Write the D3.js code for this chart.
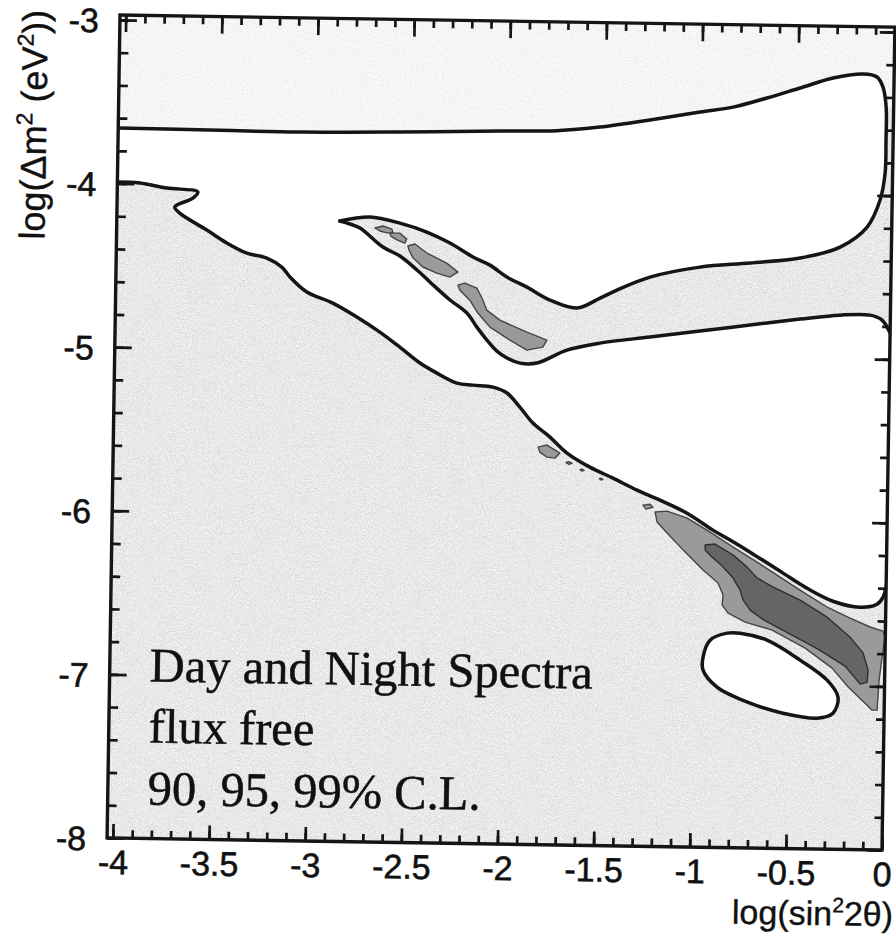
<!DOCTYPE html>
<html><head><meta charset="utf-8">
<script src="https://cdn.jsdelivr.net/npm/d3@7"></script>
<style>
html,body{margin:0;padding:0;background:#fff;}
svg{display:block;}
</style></head><body>
<svg id="chart" width="896" height="934"></svg>
<script>
// Axis ranges, in log units
const xRange = [-4.03, 0];
const yRange = [-8, -2.97];
const xTickValues = [-4, -3.5, -3, -2.5, -2, -1.5, -1, -0.5, 0];
const xTickLabels = ["-4", "-3.5", "-3", "-2.5", "-2", "-1.5", "-1", "-0.5", "0"];
const yTickValues = [-3, -4, -5, -6, -7, -8];
const yTickLabels = ["-3", "-4", "-5", "-6", "-7", "-8"];

// Upper contour: flat line, large loop, then upper edge of the diagonal band up to its tip
const topContour = [
  [-4.03, -3.661], [-3.5, -3.665], [-3.085, -3.668], [-2.565, -3.658], [-2.045, -3.643], [-1.75, -3.635],
  [-1.525, -3.609], [-1.266, -3.561], [-1.006, -3.507], [-0.835, -3.474], [-0.659, -3.415], [-0.488, -3.351],
  [-0.317, -3.287], [-0.162, -3.259], [-0.089, -3.276], [-0.057, -3.337], [-0.039, -3.459], [-0.037, -3.66],
  [-0.039, -3.862], [-0.063, -4.028], [-0.128, -4.194], [-0.267, -4.319], [-0.474, -4.39], [-0.734, -4.425],
  [-0.994, -4.455], [-1.253, -4.521], [-1.424, -4.603], [-1.511, -4.654], [-1.63, -4.717],
  [-1.771, -4.671], [-1.892, -4.594], [-1.997, -4.534], [-2.086, -4.463], [-2.175, -4.415], [-2.296, -4.332],
  [-2.417, -4.267], [-2.558, -4.215], [-2.714, -4.181], [-2.87, -4.208]
];
// Lower edge of the diagonal band, from its tip out to the right-hand axis
const bandLower = [
  [-2.87, -4.208], [-2.818, -4.225], [-2.765, -4.249], [-2.644, -4.363], [-2.555, -4.416], [-2.465, -4.50],
  [-2.397, -4.572], [-2.291, -4.68], [-2.202, -4.758], [-2.149, -4.843], [-2.096, -4.921], [-2.043, -4.988],
  [-1.99, -5.029], [-1.922, -5.059], [-1.834, -5.057], [-1.679, -4.975], [-1.508, -4.929], [-1.248, -4.887],
  [-0.989, -4.846], [-0.729, -4.804], [-0.469, -4.763], [-0.262, -4.735], [-0.106, -4.732], [-0.043, -4.761],
  [0, -4.84]
];
// Lower boundary of the excluded region
const lowerBoundary = [
  [-4.03, -3.991], [-3.913, -3.995], [-3.772, -4.023], [-3.611, -4.044], [-3.636, -4.082], [-3.729, -4.138],
  [-3.703, -4.175], [-3.561, -4.276], [-3.456, -4.353], [-3.351, -4.413], [-3.247, -4.441], [-3.168, -4.495],
  [-3.125, -4.555], [-3.036, -4.645], [-2.90, -4.71], [-2.774, -4.793], [-2.653, -4.883], [-2.548, -4.973],
  [-2.442, -5.068], [-2.353, -5.128], [-2.248, -5.187], [-2.165, -5.198], [-2.06, -5.208], [-1.987, -5.243],
  [-1.919, -5.328], [-1.85, -5.424], [-1.76, -5.508], [-1.67, -5.604], [-1.55, -5.688], [-1.429, -5.753],
  [-1.303, -5.824], [-1.183, -5.883], [-1.041, -5.96], [-0.905, -6.061], [-0.815, -6.12], [-0.71, -6.192],
  [-0.537, -6.317], [-0.411, -6.407], [-0.275, -6.484], [-0.134, -6.518], [-0.046, -6.498], [-0.015, -6.454],
  [0, -6.39]
];
// Closed island at large mixing, small mass splitting
const island = [
  [-0.946, -6.838], [-0.911, -6.734], [-0.823, -6.689], [-0.756, -6.688], [-0.615, -6.728], [-0.441, -6.847],
  [-0.299, -6.967], [-0.241, -7.07], [-0.266, -7.168], [-0.348, -7.2], [-0.526, -7.173], [-0.698, -7.115],
  [-0.871, -7.02], [-0.945, -6.918]
];
// 95% C.L. patches
const mid95 = [
  [[-2.687, -4.247], [-2.645, -4.234], [-2.599, -4.252], [-2.593, -4.276], [-2.625, -4.276], [-2.661, -4.265]],
  [[-2.609, -4.277], [-2.557, -4.276], [-2.521, -4.312], [-2.531, -4.337], [-2.572, -4.318], [-2.604, -4.295]],
  [[-2.514, -4.354], [-2.478, -4.341], [-2.415, -4.395], [-2.311, -4.455], [-2.252, -4.509], [-2.294, -4.54],
   [-2.362, -4.517], [-2.435, -4.481], [-2.487, -4.426], [-2.509, -4.377]],
  [[-2.251, -4.588], [-2.215, -4.575], [-2.152, -4.605], [-2.125, -4.665], [-2.099, -4.738], [-2.03, -4.798],
   [-1.889, -4.869], [-1.784, -4.916], [-1.804, -4.959], [-1.887, -4.979], [-1.976, -4.919], [-2.081, -4.842],
   [-2.145, -4.757], [-2.188, -4.679], [-2.241, -4.618]],
  [[-1.821, -5.571], [-1.775, -5.557], [-1.707, -5.605], [-1.732, -5.636], [-1.774, -5.631], [-1.811, -5.601]],
  [[-1.675, -5.662], [-1.66, -5.657], [-1.643, -5.665], [-1.658, -5.673]],
  [[-1.601, -5.704], [-1.59, -5.701], [-1.58, -5.709], [-1.592, -5.712]],
  [[-1.5, -5.757], [-1.49, -5.755], [-1.481, -5.762], [-1.491, -5.765]],
  [[-1.271, -5.915], [-1.234, -5.909], [-1.219, -5.927], [-1.255, -5.939]],
  [[-1.207, -5.956], [-1.145, -5.949], [-1.04, -5.99], [-0.919, -6.073], [-0.799, -6.163], [-0.673, -6.252],
   [-0.552, -6.342], [-0.431, -6.431], [-0.305, -6.52], [-0.185, -6.585], [-0.08, -6.638], [-0.012, -6.662],
   [-0.001, -6.698], [-0.015, -6.821], [-0.029, -6.962], [-0.037, -7.145], [-0.063, -7.146], [-0.1, -7.104],
   [-0.189, -7.007], [-0.274, -6.893], [-0.416, -6.773], [-0.589, -6.666], [-0.73, -6.62], [-0.819, -6.567],
   [-0.851, -6.518], [-0.847, -6.457], [-0.874, -6.384], [-0.953, -6.306], [-1.058, -6.186], [-1.143, -6.083],
   [-1.196, -6.017]]
];
// 90% C.L. core
const core90 = [
  [[-0.944, -6.153], [-0.893, -6.146], [-0.798, -6.211], [-0.719, -6.29], [-0.671, -6.35], [-0.587, -6.403],
   [-0.446, -6.48], [-0.304, -6.582], [-0.183, -6.702], [-0.114, -6.798], [-0.087, -6.902], [-0.091, -6.975],
   [-0.127, -6.988], [-0.207, -6.879], [-0.349, -6.778], [-0.495, -6.689], [-0.632, -6.606], [-0.705, -6.546],
   [-0.742, -6.486], [-0.759, -6.425], [-0.796, -6.352], [-0.854, -6.28], [-0.918, -6.214], [-0.944, -6.184]]
];
const noteLines = ["Day and Night Spectra", "flux free", "90, 95, 99% C.L."];

const W = 775, H = 823;
const svg = d3.select("#chart");

// fine speckle for the shaded areas
const defs = svg.append("defs");
function grainFilter(id, seed, amp, base) {
  const f = defs.append("filter").attr("id", id)
    .attr("x", 0).attr("y", 0).attr("width", "100%").attr("height", "100%")
    .attr("color-interpolation-filters", "sRGB");
  f.append("feTurbulence").attr("type", "fractalNoise").attr("baseFrequency", 0.85)
    .attr("numOctaves", 2).attr("seed", seed).attr("result", "noise");
  f.append("feColorMatrix").attr("in", "noise").attr("type", "matrix")
    .attr("values", `${amp} 0 0 0 ${base}  ${amp} 0 0 0 ${base}  ${amp} 0 0 0 ${base}  0 0 0 0 1`);
}
grainFilter("grain", 7, 0.3, 0.76);
grainFilter("grainLight", 11, 0.16, 0.88);

const g = svg.append("g").attr("transform", "translate(120,15) rotate(0.9)");

const x = d3.scaleLinear().domain(xRange).range([0, W]);
const y = d3.scaleLinear().domain(yRange).range([H, 0]);

const smooth = d3.line().x(d => x(d[0])).y(d => y(d[1])).curve(d3.curveCatmullRom.alpha(0.5));
const straight = d3.line().x(d => x(d[0])).y(d => y(d[1]));
const join = (...parts) => parts.map((p, i) => i ? p.replace(/^M/, "L") : p).join("") + "Z";

const topStrip = join(
  smooth(topContour.slice(0, 17)),
  straight([[0, topContour[16][1]], [0, yRange[1]], [xRange[0], yRange[1]]])
);

g.append("clipPath").attr("id", "plotClip").append("rect").attr("width", W).attr("height", H);
g.append("clipPath").attr("id", "topClip").append("path").attr("d", topStrip);
const plot = g.append("g").attr("clip-path", "url(#plotClip)");

// shaded base
plot.append("rect").attr("width", W).attr("height", H).attr("filter", "url(#grain)");

// lighter strip above the flat contour
plot.append("g").attr("clip-path", "url(#topClip)")
  .append("rect").attr("width", W).attr("height", H).attr("filter", "url(#grainLight)");

// excluded (white) region
plot.append("path")
  .attr("d", join(
    smooth(topContour),
    smooth(bandLower),
    straight([bandLower[bandLower.length - 1], lowerBoundary[lowerBoundary.length - 1]]),
    smooth(lowerBoundary.slice().reverse())
  ))
  .attr("fill", "#ffffff");

const islandPath = d3.line().x(d => x(d[0])).y(d => y(d[1])).curve(d3.curveCatmullRomClosed)(island);
plot.append("path").attr("d", islandPath).attr("fill", "#ffffff");

// confidence-level patches
const closed = d3.line().x(d => x(d[0])).y(d => y(d[1])).curve(d3.curveLinearClosed);
plot.selectAll("path.cl95").data(mid95).join("path").attr("class", "cl95")
  .attr("d", closed).attr("fill", "#9a9a9a").attr("stroke", "#454545").attr("stroke-width", 1.4)
  .attr("stroke-linejoin", "round");
plot.selectAll("path.cl90").data(core90).join("path").attr("class", "cl90")
  .attr("d", closed).attr("fill", "#656565").attr("stroke", "#2e2e2e").attr("stroke-width", 1.4)
  .attr("stroke-linejoin", "round");

// contour lines
const lineStyle = sel => sel.attr("fill", "none").attr("stroke", "#151515").attr("stroke-width", 3.5)
  .attr("stroke-linejoin", "round").attr("stroke-linecap", "round");
[topContour, bandLower, lowerBoundary].forEach(c => plot.append("path").attr("d", smooth(c)).call(lineStyle));
plot.append("path").attr("d", islandPath).call(lineStyle);

// annotation
const note = g.append("text").attr("font-family", "'Liberation Serif', 'Times New Roman', serif")
  .attr("font-size", 48.5).attr("fill", "#111").attr("stroke", "#111").attr("stroke-width", 0.5);
note.selectAll("tspan").data(noteLines).join("tspan")
  .attr("x", 40).attr("y", (d, i) => [666, 727, 789][i]).text(d => d);

// axes
const minorX = d3.range(-40, 1).map(v => v / 10);
const minorY = d3.range(-40, -14).map(v => v / 5);
const fmtX = d => xTickLabels[xTickValues.indexOf(d)];
const fmtY = d => yTickLabels[yTickValues.indexOf(d)];
const axFont = "'Liberation Sans', Arial, Helvetica, sans-serif";

function styleAxis(sel) {
  sel.select(".domain").remove();
  sel.selectAll(".tick line").attr("stroke", "#151515").attr("stroke-width", 2.7);
  sel.selectAll(".tick text").attr("font-family", axFont).attr("font-size", 34).attr("fill", "#111")
    .attr("stroke", "#111").attr("stroke-width", 0.6);
}

g.append("g").attr("transform", `translate(0,${H})`)
  .call(d3.axisBottom(x).tickValues(minorX).tickSize(-8).tickFormat("")).call(styleAxis);
g.append("g").attr("transform", `translate(0,${H})`)
  .call(d3.axisBottom(x).tickValues(xTickValues).tickSize(-14).tickFormat(fmtX)).call(styleAxis)
  .selectAll(".tick text").attr("y", 36).attr("dy", 0);
g.append("g")
  .call(d3.axisTop(x).tickValues(minorX).tickSize(-8).tickFormat("")).call(styleAxis);
g.append("g")
  .call(d3.axisTop(x).tickValues(xTickValues).tickSize(-17).tickFormat("")).call(styleAxis);
g.append("g")
  .call(d3.axisLeft(y).tickValues(minorY).tickSize(-9).tickFormat("")).call(styleAxis);
g.append("g")
  .call(d3.axisLeft(y).tickValues(yTickValues).tickSize(-17).tickFormat(fmtY)).call(styleAxis)
  .selectAll(".tick text").attr("x", -21).attr("dy", "0.36em");
g.append("g").attr("transform", `translate(${W},0)`)
  .call(d3.axisRight(y).tickValues(minorY).tickSize(-8).tickFormat("")).call(styleAxis);
g.append("g").attr("transform", `translate(${W},0)`)
  .call(d3.axisRight(y).tickValues(yTickValues).tickSize(-15).tickFormat("")).call(styleAxis);

// frame
g.append("rect").attr("width", W).attr("height", H)
  .attr("fill", "none").attr("stroke", "#151515").attr("stroke-width", 3.4);

// axis titles
const xt = g.append("text").attr("x", 787).attr("y", 899).attr("text-anchor", "end")
  .attr("font-family", axFont).attr("font-size", 34).attr("fill", "#111")
  .attr("stroke", "#111").attr("stroke-width", 0.4);
xt.append("tspan").text("log(sin");
xt.append("tspan").attr("dy", -13).attr("font-size", 21).text("2");
xt.append("tspan").attr("dy", 13).text("2θ)");

const yt = g.append("text").attr("transform", "translate(-72,111) rotate(-90)")
  .attr("text-anchor", "middle").attr("font-family", axFont).attr("font-size", 36).attr("fill", "#111")
  .attr("stroke", "#111").attr("stroke-width", 0.4);
yt.append("tspan").text("log(Δm");
yt.append("tspan").attr("dy", -14).attr("font-size", 23).text("2");
yt.append("tspan").attr("dy", 14).text(" (eV");
yt.append("tspan").attr("dy", -14).attr("font-size", 23).text("2");
yt.append("tspan").attr("dy", 14).text("))");
</script>
</body></html>
